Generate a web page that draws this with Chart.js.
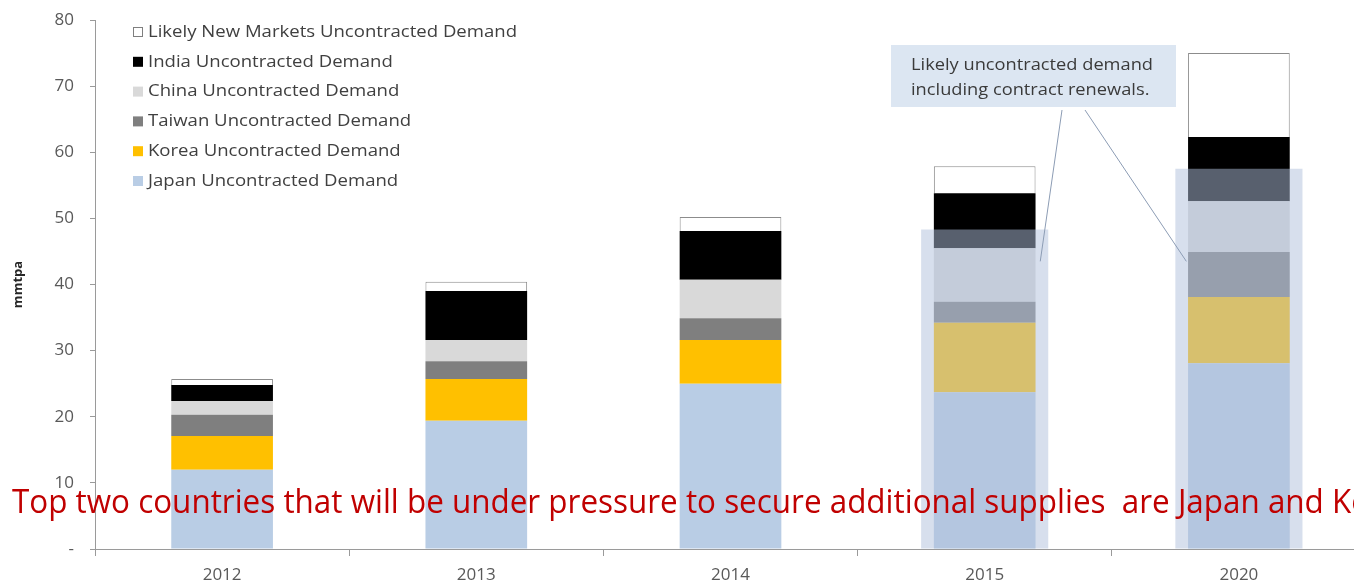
<!DOCTYPE html>
<html>
<head>
<meta charset="utf-8">
<script src="https://cdn.jsdelivr.net/npm/chart.js@4"></script>
<style>
  html, body { margin: 0; padding: 0; background: #fff; overflow: hidden; }
  #wrap { width: 1354px; height: 584px; overflow: hidden; position: relative; }
  canvas { position: absolute; left: 0; top: 0; }
</style>
</head>
<body>
<div id="wrap"><canvas id="demandChart" width="1366" height="584"></canvas></div>
<script>
// categories + series (mmtpa)
var years = ['2012', '2013', '2014', '2015', '2020'];
var japan  = [12.0, 19.4, 25.0, 23.7, 28.1];
var korea  = [5.1, 6.3, 6.6, 10.5, 10.0];
var taiwan = [3.2, 2.7, 3.3, 3.2, 6.8];
var china  = [2.1, 3.2, 5.8, 8.1, 7.7];
var india  = [2.4, 7.4, 7.4, 8.3, 9.7];
var newMarkets = [0.9, 1.4, 2.1, 4.1, 12.7];
// shaded band: uncontracted demand incl. renewals
var renewals = [null, null, null, 48.3, 57.5];
var yTicks = [0, 10, 20, 30, 40, 50, 60, 70, 80];

var legendNames = [
    'Likely New Markets Uncontracted Demand',
    'India Uncontracted Demand',
    'China Uncontracted Demand',
    'Taiwan Uncontracted Demand',
    'Korea Uncontracted Demand',
    'Japan Uncontracted Demand'
];
var noteLines = ['Likely uncontracted demand', 'including contract renewals.'];
var headline = 'Top two countries that will be under pressure to secure additional supplies  are Japan and Korea';

function barSet(label, data, color, border) {
    return {
        label: label,
        data: data,
        backgroundColor: color,
        borderColor: border || color,
        borderWidth: border ? 1 : 0,
        stack: 'demand',
        order: 1,
        grouped: false,
        barPercentage: 0.4,
        categoryPercentage: 1.0
    };
}

var textFont = '"Open Sans", sans-serif';

// text stretched sideways so it matches the wider font of the original
function wideText(ctx, txt, x, y, sx) {
    ctx.save();
    ctx.translate(x, y);
    ctx.scale(sx, 1);
    ctx.fillText(txt, 0, 0);
    ctx.restore();
}

// legend, note box, leader lines and red headline
var extrasPlugin = {
    id: 'extras',
    afterDraw: function (chart) {
        var ctx = chart.ctx;
        ctx.save();

        // legend (top-left, vertical)
        var items = chart.data.datasets.filter(function (d) { return d.stack === 'demand'; }).slice().reverse();
        ctx.font = '17px ' + textFont;
        ctx.textBaseline = 'middle';
        ctx.textAlign = 'left';
        var lsx = 369 / ctx.measureText(legendNames[0]).width;
        for (var i = 0; i < items.length; i++) {
            var y = 32 + i * 29.8;
            ctx.fillStyle = items[i].backgroundColor;
            ctx.fillRect(133, y - 5, 10, 10);
            if (items[i].borderWidth) {
                ctx.strokeStyle = '#7f7f7f';
                ctx.lineWidth = 1;
                ctx.strokeRect(133.5, y - 4.5, 9, 9);
            }
            ctx.fillStyle = '#404040';
            wideText(ctx, legendNames[i], 148, y, lsx);
        }

        // note box
        var ov = chart.getDatasetMeta(0);
        var b15 = ov.data[3], b20 = ov.data[4];
        ctx.strokeStyle = '#8c9cb4';
        ctx.lineWidth = 1;
        ctx.beginPath();
        ctx.moveTo(1062, 110);
        ctx.lineTo(b15.x + b15.width / 2 - 8, chart.scales.y.getPixelForValue(43.5));
        ctx.moveTo(1085, 110);
        ctx.lineTo(b20.x - b20.width / 2 + 11, chart.scales.y.getPixelForValue(43.5));
        ctx.stroke();

        ctx.fillStyle = '#dce6f2';
        ctx.fillRect(891, 45, 285, 62);
        ctx.fillStyle = '#3a3a3a';
        ctx.font = '16px ' + textFont;
        var nsx = 242 / ctx.measureText(noteLines[0]).width;
        wideText(ctx, noteLines[0], 911, 65, nsx);
        wideText(ctx, noteLines[1], 911, 90, nsx);

        // red headline, squeezed to the width in the picture
        ctx.font = '32px ' + textFont;
        var prefix = headline.substring(0, headline.lastIndexOf('K'));
        var sx = (1332 - 12) / ctx.measureText(prefix).width;
        ctx.textBaseline = 'alphabetic';
        ctx.fillStyle = '#c00000';
        wideText(ctx, headline, 12, 513, sx);
        ctx.restore();
    }
};

var ctx = document.getElementById('demandChart').getContext('2d');
var demandChart = new Chart(ctx, {
    type: 'bar',
    data: {
        labels: years,
        datasets: [
            {
                label: 'Likely uncontracted demand including contract renewals',
                data: renewals,
                backgroundColor: 'rgba(176,192,220,0.5)',
                borderWidth: 0,
                stack: 'overlay',
                order: 0,
                grouped: false,
                barPercentage: 0.5,
                categoryPercentage: 1.0
            },
            barSet('Japan Uncontracted Demand', japan, '#b9cde5'),
            barSet('Korea Uncontracted Demand', korea, '#ffc000'),
            barSet('Taiwan Uncontracted Demand', taiwan, '#7f7f7f'),
            barSet('China Uncontracted Demand', china, '#d9d9d9'),
            barSet('India Uncontracted Demand', india, '#000000'),
            barSet('Likely New Markets Uncontracted Demand', newMarkets, '#ffffff', '#8c8c8c')
        ]
    },
    options: {
        responsive: false,
        animation: false,
        layout: { padding: { top: 20, right: 0, left: 0, bottom: 0 } },
        plugins: {
            legend: { display: false },
            tooltip: { enabled: false },
            title: { display: false }
        },
        scales: {
            x: {
                stacked: true,
                grid: { display: true, drawOnChartArea: false, offset: true, tickLength: 7, color: '#9a9a9a' },
                border: { color: '#9a9a9a', width: 1 },
                ticks: { color: '#595959', font: { size: 17, family: textFont }, padding: 9 },
                afterFit: function (scale) { scale.height = 35; }
            },
            y: {
                stacked: true,
                min: 0,
                max: 80,
                afterBuildTicks: function (scale) {
                    scale.ticks = yTicks.map(function (v) { return { value: v }; });
                },
                grid: { display: true, drawOnChartArea: false, tickLength: 5, color: '#9a9a9a' },
                border: { color: '#9a9a9a', width: 1 },
                ticks: {
                    color: '#595959',
                    font: { size: 17, family: textFont },
                    padding: 16,
                    callback: function (v) { return v === 0 ? '-' : v; }
                },
                title: {
                    display: true,
                    text: 'mmtpa',
                    color: '#262626',
                    font: { size: 13, weight: 'bold', family: textFont },
                    padding: { top: 10, bottom: 0 }
                },
                afterFit: function (scale) {
                    scale.width = 95;
                    scale.paddingTop = 0;
                    scale.paddingBottom = 0;
                }
            }
        }
    },
    plugins: [extrasPlugin]
});
</script>
</body>
</html>
